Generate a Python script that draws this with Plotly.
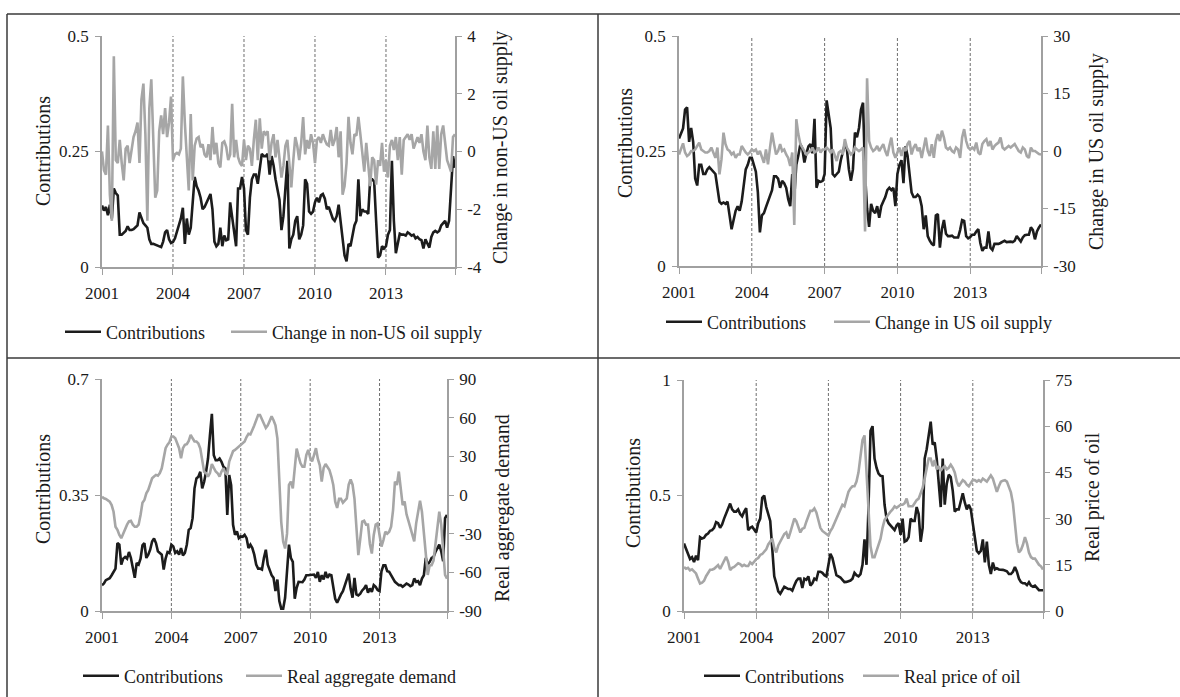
import plotly.graph_objects as go

W, H = 1180, 697

# month index 0..179 = Jan 2001 .. Dec 2015
months = list(range(180))
year_ticks = [0, 36, 72, 108, 144, 179]
year_labels = ["2001", "2004", "2007", "2010", "2013", ""]
dash_months = [36, 72, 108, 144]

# ---- panel 1: non-US oil supply ----
nonus_contrib = [
    0.133, 0.122, 0.13, 0.112, 0.135, 0.105, 0.17, 0.16, 0.155, 0.07, 0.07, 0.075,
    0.078, 0.088, 0.08, 0.08, 0.082, 0.086, 0.09, 0.118, 0.105, 0.095, 0.09, 0.085,
    0.06, 0.05, 0.05, 0.048, 0.046, 0.045, 0.043, 0.055, 0.075, 0.08, 0.06, 0.052,
    0.054, 0.062, 0.075, 0.09, 0.105, 0.128, 0.05, 0.105, 0.07, 0.085, 0.15, 0.195,
    0.175, 0.165, 0.15, 0.125, 0.13, 0.14, 0.15, 0.158, 0.125, 0.055, 0.045, 0.05,
    0.085, 0.045, 0.068, 0.058, 0.06, 0.14, 0.108, 0.075, 0.045, 0.17, 0.17, 0.195,
    0.17, 0.08, 0.07, 0.15, 0.19, 0.2, 0.2, 0.18, 0.22, 0.245, 0.24, 0.24,
    0.245, 0.2, 0.24, 0.22, 0.19, 0.165, 0.145, 0.08, 0.11, 0.17, 0.23, 0.04,
    0.06, 0.07, 0.1, 0.11, 0.06, 0.07, 0.09, 0.19, 0.18, 0.12, 0.115, 0.12,
    0.14, 0.15, 0.14, 0.155, 0.158, 0.148, 0.125, 0.13, 0.115, 0.105, 0.1, 0.11,
    0.135, 0.1, 0.06, 0.025, 0.012, 0.05, 0.045, 0.065, 0.09, 0.1, 0.19, 0.11,
    0.125, 0.12, 0.12, 0.115, 0.19, 0.19, 0.185, 0.1, 0.02, 0.025, 0.045, 0.04,
    0.045, 0.07, 0.08, 0.23, 0.1, 0.03, 0.05, 0.072, 0.07, 0.07, 0.068, 0.075,
    0.072, 0.068, 0.07, 0.062, 0.065, 0.06, 0.058, 0.04, 0.06, 0.05, 0.042, 0.065,
    0.075, 0.078, 0.075, 0.078, 0.09, 0.095, 0.1, 0.085, 0.1, 0.17, 0.24, 0.215,
]
nonus_supply = [
    0, -0.65, -0.8, 0.9, -1.5, -2.4, 3.3, -0.3, -0.4, 0.4, -0.4, -1.0,
    0.1, 0.2, -0.4, 0.1, 0.5, 0.7, 1.0, -0.4, 1.8, 2.35, 0.6, -2.4,
    1.5, 2.5, 0.4, -1.6, -1.35, 0.7, 1.25, 0.6, 1.5, 0.5, 1.0, 1.9,
    -0.3, -0.1, -0.05, -0.1, 0.1, 2.6, 1.0, -0.3, -1.35, 1.3, -1.0, 0.2,
    0.45, 0.5, 0.15, 0.25, -0.1, -0.2, 0.25, -0.3, 0.85, -0.1, 0.3, -0.4,
    -0.55, 0.3, 0.35, 0.15, -0.3, -0.1, 1.65, -0.2, 0.4, -0.2, -0.4, -0.5,
    0.4, -0.3, 0.2, 0.1, -0.5, 0.4, 1.1, -0.3, 1.15, 0.1, 0.7, 0.6,
    0.7, -0.3, 0.3, 0.6, -0.2, 0.4, -0.3, -0.9, -0.5, 0.2, 0.4, -0.6,
    -1.24, -0.3, 0.5, 0.2, -0.3, 0.3, 1.19, -0.1, 0.4, 0.1, 0.6, 0.3,
    -0.4, 0.4, 0.5, 0.3, 0.6, 0.4, 0.25, 0.2, 0.75, 0.2, 0.4, 0.85,
    -0.2, 0.7, -1.5, -1.2, -0.4, 1.2, 0.3, -0.1, 0.6, 0.55, 1.2, 0.6,
    -0.05, -0.7, 0.3, -0.5, -1.2, -0.2, -0.3, -1.15, -0.3, -0.5, 0.3, -0.7,
    -0.3, -0.9, 0.2, 0.4, 0.05, 0.5, -0.3, 0.5, -0.8, 0.4, 0.5, 0.6,
    0.4, 0.6, 0.1, 0.3, 0.5, 0.3, 0.6, 0.0, -0.3, 0.9, -0.2, -0.6,
    0.7, -0.6, 0.9, -0.6, 0.6, 0.9, 0.2, -0.3, -0.5, -0.7, 0.5, 0.6,
]

# ---- panel 2: US oil supply ----
us_contrib = [
    0.277, 0.288, 0.299, 0.34, 0.345, 0.27, 0.30, 0.27, 0.19, 0.175, 0.22, 0.22,
    0.2, 0.2, 0.21, 0.215, 0.21, 0.205, 0.2, 0.17, 0.14, 0.135, 0.138, 0.135,
    0.14, 0.11, 0.08, 0.1, 0.12, 0.13, 0.12, 0.14, 0.17, 0.21, 0.22, 0.235,
    0.235, 0.22, 0.205, 0.16, 0.073, 0.11, 0.115, 0.128, 0.14, 0.15, 0.165, 0.195,
    0.195, 0.19, 0.17, 0.185, 0.18, 0.17, 0.145, 0.13, 0.2, 0.15, 0.22, 0.24,
    0.265, 0.255, 0.225, 0.245, 0.26, 0.265, 0.245, 0.32, 0.17, 0.185, 0.183, 0.185,
    0.2, 0.36, 0.33, 0.3, 0.2, 0.195, 0.2, 0.205, 0.23, 0.25, 0.265, 0.255,
    0.21, 0.185, 0.21, 0.29, 0.28, 0.3, 0.34, 0.355, 0.2, 0.125, 0.085, 0.135,
    0.12, 0.115, 0.13, 0.105, 0.13, 0.14, 0.15, 0.165, 0.17, 0.165, 0.17, 0.13,
    0.2, 0.22, 0.23, 0.18, 0.26, 0.24, 0.2, 0.16, 0.15, 0.15, 0.155, 0.15,
    0.13, 0.08, 0.11, 0.065, 0.055, 0.048, 0.045, 0.11, 0.113, 0.04, 0.08, 0.1,
    0.07, 0.065, 0.065, 0.066, 0.062, 0.062, 0.062, 0.078, 0.1, 0.098, 0.065, 0.06,
    0.063, 0.068, 0.068, 0.075, 0.08, 0.05, 0.033, 0.04, 0.04, 0.075, 0.04, 0.035,
    0.048, 0.048, 0.048, 0.05, 0.052, 0.055, 0.052, 0.053, 0.053, 0.052, 0.055, 0.065,
    0.06, 0.053, 0.062, 0.067, 0.068, 0.068, 0.084, 0.078, 0.058, 0.075, 0.084, 0.09,
]
us_supply = [
    -0.9, 0.4, 2.0, -0.4, -1.3, -0.9, 0.0, 0.0, 0.4, 1.3, 2.2, 0.4,
    0.0, -0.4, -0.4, 0.0, 0.9, -0.4, -1.8, 0.9, -6.1, -2.2, 4.8, 1.8,
    0.4, 0.0, -0.9, -0.4, -1.8, -0.9, -0.9, 1.3, 0.4, -0.4, -0.9, -0.4,
    0.4, 0.0, 0.4, -0.9, 0.0, -1.3, -3.1, 0.4, -3.5, 0.9, 4.8, 1.8,
    -0.9, 0.0, 1.8, 0.0, 0.4, -0.9, -1.8, -3.9, -0.4, -19.3, 8.3, 4.4,
    1.8, 0.9, 0.0, -0.9, -0.4, 0.0, 0.9, -0.4, 0.0, 0.9, -0.4, 0.4,
    0.4, 0.9, 0.4, -0.4, 0.4, -0.9, -2.6, -0.4, 0.0, -0.9, 3.1, 0.9,
    0.0, -0.9, -0.4, 0.9, 0.4, 0.0, 0.4, 0.9, -21.0, 19.0, 2.6, 0.9,
    0.0, 0.4, 1.3, 0.0, 0.9, 1.8, 0.0, -1.3, 1.3, 3.5, -0.4, -1.8,
    -0.4, 0.9, -1.3, 0.9, 0.0, 1.8, 2.6, -0.9, 0.9, 1.8, 0.0, 0.9,
    -1.8, 0.9, 3.5, 0.0, -1.3, 1.8, -1.8, 2.6, 4.4, 2.6, 5.3, 3.5,
    0.9, 0.4, 0.9, 0.0, -0.4, 0.9, 0.4, -1.8, 3.5, 5.7, 2.6, 0.9,
    0.4, 0.9, 0.4, 2.2, -0.4, -0.9, 1.8, 2.6, 3.1, 1.3, 2.6, 0.4,
    1.3, 1.8, 2.2, 3.5, 0.9, 0.4, 0.9, 1.3, 0.9, 1.3, 1.8, 0.9,
    0.0, -0.4, 0.9, 0.4, -1.3, -1.8, 0.9, 0.0, 0.0, -0.4, -0.8, -0.9,
]

# ---- panel 3: real aggregate demand ----
demand_contrib = [
    0.078, 0.083, 0.093, 0.097, 0.099, 0.108, 0.118, 0.128, 0.205, 0.2, 0.14, 0.158,
    0.163, 0.158, 0.178, 0.16, 0.13, 0.1, 0.145, 0.14, 0.158, 0.198, 0.205, 0.16,
    0.17, 0.185, 0.21, 0.219, 0.205, 0.18, 0.175, 0.17, 0.125, 0.158, 0.178, 0.175,
    0.2, 0.195, 0.175, 0.18, 0.17, 0.19, 0.168, 0.175, 0.2, 0.245, 0.25, 0.28,
    0.37, 0.4, 0.405, 0.42, 0.37, 0.39, 0.42, 0.46, 0.53, 0.595, 0.47, 0.455,
    0.455, 0.46, 0.45, 0.435, 0.43, 0.29, 0.41, 0.38, 0.26, 0.23, 0.24, 0.22,
    0.225, 0.224, 0.23, 0.22, 0.19, 0.2, 0.19, 0.17, 0.14, 0.128, 0.128, 0.125,
    0.16, 0.185, 0.14, 0.12, 0.108, 0.1, 0.06, 0.095, 0.03, 0.007, 0.007, 0.04,
    0.12, 0.2, 0.16, 0.148, 0.037, 0.07, 0.088, 0.088, 0.087, 0.095, 0.108, 0.108,
    0.108, 0.108, 0.11, 0.1, 0.118, 0.088, 0.108, 0.095, 0.118, 0.1, 0.11, 0.108,
    0.078, 0.037, 0.025, 0.04, 0.05, 0.06, 0.078, 0.1, 0.113, 0.067, 0.04, 0.1,
    0.05, 0.047, 0.052, 0.062, 0.068, 0.078, 0.055, 0.068, 0.058, 0.078, 0.073, 0.063,
    0.06, 0.12, 0.138, 0.138, 0.12, 0.118, 0.108, 0.098, 0.088, 0.083, 0.078, 0.078,
    0.073, 0.078, 0.083, 0.08, 0.075, 0.078, 0.098, 0.088, 0.09, 0.078, 0.098, 0.108,
    0.16, 0.14, 0.148, 0.16, 0.163, 0.178, 0.189, 0.2, 0.18, 0.15, 0.28, 0.29,
]
demand_series = [
    -1.3, -2.6, -3.1, -3.9, -5.2, -7.8, -13, -24.6, -27, -31, -33.5, -30,
    -26, -23, -20.5, -20, -23, -24.6, -24.6, -23, -15.5, -6, -3.9, 1.3,
    3.9, 7.8, 13, 14.3, 15.6, 15, 17, 20.7, 28.5, 36.3, 39, 41,
    45.4, 45.4, 44, 40, 36.3, 28.5, 36.3, 38.9, 39.5, 42, 46.7, 44,
    41.5, 41.5, 40, 36, 28, 18, 17, 14.3, 17, 24, 21, 18.2,
    16.9, 14.3, 18.2, 20.7, 17, 15.6, 26, 31, 34, 35, 36.3, 38,
    39, 40, 41.5, 45, 47.5, 47, 50, 54, 58, 62, 62, 59,
    55, 52, 54, 57, 61, 58, 54, 44, 15, -21, -36, -41.5,
    -30, 7.8, 10.4, 5.2, 20.7, 36, 30, 24.6, 22, 22, 31, 35,
    29, 26, 31, 36.3, 28, 23, 10.4, 21, 24, 22, 19.4, 14.3,
    7.8, -5.2, -10, -3, -3, -6, -4, -2.6, 8, 12, 8, -3,
    -25, -46.7, -34, -20.7, -20, -23, -23, -38, -45.4, -31, -23, -22,
    -31, -40, -35, -28.5, -30, -28.5, -24.6, -12, 10.4, 7.8, 18.2, 3,
    -7.8, -5, -15, -20, -25.5, -31, -36, -22, -14, -4.5, -13, -29,
    -50, -62, -54.5, -54.5, -51, -39, -23, -13, -23, -45, -62, -65,
]

# ---- panel 4: real price of oil ----
price_contrib = [
    0.292, 0.27, 0.24, 0.225, 0.233, 0.212, 0.24, 0.22, 0.32, 0.314, 0.317, 0.33,
    0.335, 0.347, 0.35, 0.36, 0.385, 0.38, 0.36, 0.375, 0.4, 0.42, 0.44, 0.465,
    0.44, 0.43, 0.43, 0.44, 0.42, 0.41, 0.43, 0.445, 0.35, 0.36, 0.365, 0.35,
    0.34, 0.38, 0.4, 0.49, 0.5, 0.45, 0.42, 0.39, 0.27, 0.15, 0.12, 0.085,
    0.075, 0.09, 0.105, 0.1, 0.095, 0.095, 0.088, 0.11, 0.13, 0.14, 0.14, 0.1,
    0.14, 0.135, 0.15, 0.11, 0.12, 0.14, 0.135, 0.17, 0.17, 0.165, 0.155, 0.15,
    0.2, 0.248, 0.23, 0.185, 0.155, 0.15, 0.145, 0.135, 0.125, 0.126, 0.13, 0.132,
    0.14, 0.165, 0.155, 0.15, 0.16, 0.2, 0.31, 0.2, 0.45, 0.78, 0.8, 0.66,
    0.62, 0.595, 0.585, 0.583, 0.46, 0.4, 0.38, 0.37, 0.36, 0.35, 0.37, 0.38,
    0.33, 0.4, 0.3, 0.305, 0.32, 0.4, 0.39, 0.39, 0.45, 0.42, 0.3, 0.36,
    0.66, 0.7, 0.76, 0.82, 0.72, 0.73, 0.66, 0.57, 0.45, 0.66, 0.46, 0.55,
    0.59, 0.58, 0.52, 0.43, 0.44, 0.44, 0.48, 0.51, 0.47, 0.44, 0.46, 0.44,
    0.38, 0.31, 0.26, 0.25, 0.26, 0.31, 0.21, 0.3, 0.2, 0.16, 0.21, 0.18,
    0.185, 0.18, 0.18, 0.178, 0.175, 0.172, 0.16, 0.16, 0.17, 0.19, 0.17, 0.14,
    0.125, 0.12, 0.12, 0.112, 0.125, 0.11, 0.105, 0.11, 0.1, 0.09, 0.09, 0.09,
]
price_series = [
    14.3, 13.7, 14.0, 13.2, 13.5, 12.8, 12.2, 10.5, 8.9, 9.2, 9.8, 11.3,
    12.5, 13.4, 13.4, 13.7, 14.3, 14.9, 13.7, 14.9, 16.1, 17.6, 16.0, 13.3,
    14.0, 14.3, 14.9, 15.5, 15.2, 14.6, 15.0, 14.6, 14.6, 15.8, 15.2, 16.0,
    16.8, 17.2, 18.2, 18.5, 19.1, 20.0, 21.6, 22.5, 23.5, 20.5, 19.0, 21.3,
    22.5, 23.5, 25.0, 25.5, 23.5, 25.5, 28.0, 30.0, 29.2, 27.5, 25.5, 26.7,
    27.0, 29.0, 31.0, 32.5, 32.5, 33.3, 32.0, 29.0, 27.0, 26.0, 25.5, 25.0,
    24.5, 26.0, 27.0, 28.5, 30.0, 31.5, 33.5, 34.5, 34.0, 36.0, 38.7, 39.8,
    40.5, 40.5, 42.0, 45.0, 51.0, 55.5, 57.0, 45.0, 32.0, 21.0, 17.5, 17.5,
    19.5, 21.5, 23.5, 27.0, 29.5, 30.5, 31.6, 32.3, 33.0, 34.0, 33.5, 34.0,
    34.5, 34.5, 35.0, 36.5, 34.0, 34.0, 34.0, 35.0, 36.0, 36.5, 38.0, 40.0,
    43.0, 46.5, 49.5, 49.5, 47.0, 49.0, 46.0, 47.0, 45.5, 46.5, 47.0, 46.0,
    46.5, 47.5, 46.5, 45.0, 42.0, 40.5, 41.5, 42.5, 42.0, 41.0, 40.5, 41.5,
    42.5, 42.5, 42.0, 42.5, 42.0, 43.0, 42.5, 42.0, 43.0, 44.0, 43.0, 40.5,
    38.7, 40.5, 42.0, 42.3, 42.5, 42.0, 40.5, 38.5, 35.0, 28.5, 22.0, 19.0,
    19.8, 21.5, 24.0, 22.0, 19.0, 17.5, 17.0, 17.0, 16.0, 15.0, 14.5, 13.5,
]

# ---- styling ----
FONT = "Liberation Serif"
BLACK = "#1c1c1c"
GREY = "#a6a6a6"
AXIS = "#a0a0a0"
TEXT = "#1a1a1a"
LEG_ITEM = 36  # legend symbol width


def fx(px):
    return px / W


def fy(py):
    return 1 - py / H


def tfont(size):
    return dict(family=FONT, size=size, color=TEXT)


# each panel: plot box in px, left ticks, right ticks, series, label positions
# legend = (x where the first label text starts, y centre, spacing between entries)
panels = [
    dict(box=(102, 36, 455, 267),
         left=[0, 0.25, 0.5], left_txt=["0", "0.25", "0.5"],
         right=[-4, -2, 0, 2, 4], right_txt=["-4", "-2", "0", "2", "4"],
         black=nonus_contrib, grey=nonus_supply, name="Change in non-US oil supply",
         ltitle=(43, 151), rtitle=(500, 148), legend=(106, 332, 166)),
    dict(box=(679, 36, 1041, 266),
         left=[0, 0.25, 0.5], left_txt=["0", "0.25", "0.5"],
         right=[-30, -15, 0, 15, 30], right_txt=["-30", "-15", "0", "15", "30"],
         black=us_contrib, grey=us_supply, name="Change in US oil supply",
         ltitle=(625, 143), rtitle=(1097, 152), legend=(707, 322, 168)),
    dict(box=(102, 379, 447, 611),
         left=[0, 0.35, 0.7], left_txt=["0", "0.35", "0.7"],
         right=[-90, -60, -30, 0, 30, 60, 90],
         right_txt=["-90", "-60", "-30", "0", "30", "60", "90"],
         black=demand_contrib, grey=demand_series, name="Real aggregate demand",
         ltitle=(43, 489), rtitle=(502, 508), legend=(124, 676, 163)),
    dict(box=(684, 380, 1043, 611),
         left=[0, 0.5, 1], left_txt=["0", "0.5", "1"],
         right=[0, 15, 30, 45, 60, 75], right_txt=["0", "15", "30", "45", "60", "75"],
         black=price_contrib, grey=price_series, name="Real price of oil",
         ltitle=(633, 493), rtitle=(1092, 497), legend=(745, 676, 159)),
]

fig = go.Figure()
layout = dict(
    width=W, height=H,
    margin=dict(l=0, r=0, t=0, b=0, autoexpand=False),
    paper_bgcolor="white", plot_bgcolor="white",
    font=tfont(17),
    hovermode=False,
    shapes=[], annotations=[],
)

text_gap = LEG_ITEM + 10
for i, p in enumerate(panels):
    n = i + 1
    xa = "x" if n == 1 else f"x{n}"
    yl_n, yr_n = 2 * n - 1, 2 * n
    yl = "y" if yl_n == 1 else f"y{yl_n}"
    yr = f"y{yr_n}"
    leg = "legend" if n == 1 else f"legend{n}"
    x0, y0, x1, y1 = p["box"]
    lx, ly, lstep = p["legend"]

    fig.add_trace(go.Scatter(x=months, y=p["black"], mode="lines", name="Contributions",
                             line=dict(color=BLACK, width=2.6), xaxis=xa, yaxis=yl,
                             legend=leg, legendwidth=lstep - text_gap - 5))
    fig.add_trace(go.Scatter(x=months, y=p["grey"], mode="lines", name=p["name"],
                             line=dict(color=GREY, width=2.6), xaxis=xa, yaxis=yr,
                             legend=leg, legendwidth=260))

    xkey = "xaxis" if n == 1 else f"xaxis{n}"
    ylkey = "yaxis" if yl_n == 1 else f"yaxis{yl_n}"
    yrkey = f"yaxis{yr_n}"

    common = dict(showline=True, linecolor=AXIS, linewidth=1.5, ticks="outside",
                  tickcolor=AXIS, tickwidth=1.3, showgrid=False, zeroline=False,
                  automargin=False, tickfont=tfont(17), tickmode="array")
    layout[xkey] = dict(
        domain=[fx(x0), fx(x1)], anchor=yl, range=[0, 179],
        tickvals=year_ticks, ticktext=year_labels,
        ticklen=6, ticklabelstandoff=4, **common)
    layout[ylkey] = dict(
        domain=[fy(y1), fy(y0)], anchor=xa,
        range=[p["left"][0], p["left"][-1]],
        tickvals=p["left"], ticktext=p["left_txt"],
        ticklen=5, ticklabelstandoff=3, **common)
    layout[yrkey] = dict(
        overlaying=yl, side="right", anchor=xa,
        range=[p["right"][0], p["right"][-1]],
        tickvals=p["right"], ticktext=p["right_txt"],
        ticklen=5, ticklabelstandoff=2, **common)
    layout[leg] = dict(
        orientation="h", x=fx(lx - text_gap), y=fy(ly),
        xanchor="left", yanchor="middle", itemwidth=LEG_ITEM,
        font=tfont(18), bgcolor="rgba(0,0,0,0)",
    )

    # dashed year markers
    for m in dash_months:
        layout["shapes"].append(dict(
            type="line", xref=xa, yref=f"{yl} domain", x0=m, x1=m, y0=0, y1=1,
            line=dict(color="#6e6e6e", width=1, dash="3px,2px"), layer="below"))

    # axis titles
    layout["annotations"].append(dict(
        text="Contributions", xref="paper", yref="paper",
        x=fx(p["ltitle"][0]), y=fy(p["ltitle"][1]), textangle=-90, showarrow=False,
        font=tfont(20), xanchor="center", yanchor="middle"))
    layout["annotations"].append(dict(
        text=p["name"], xref="paper", yref="paper",
        x=fx(p["rtitle"][0]), y=fy(p["rtitle"][1]), textangle=-90, showarrow=False,
        font=tfont(20), xanchor="center", yanchor="middle"))

# panel frame
FRAME = dict(color="#3a3a3a", width=1.5)
for (a, b, c, d) in [(7, 14, 1180, 14), (7, 14, 7, 697), (598, 14, 598, 697),
                     (7, 358, 1180, 358)]:
    layout["shapes"].append(dict(type="line", xref="paper", yref="paper",
                                 x0=fx(a), y0=fy(b), x1=fx(c), y1=fy(d), line=FRAME))

fig.update_layout(**layout)
# drop the default page margin so the figure sits at the window origin
fig.write_html("out.html", config={"displayModeBar": False},
               post_script="document.body.style.margin='0';")
